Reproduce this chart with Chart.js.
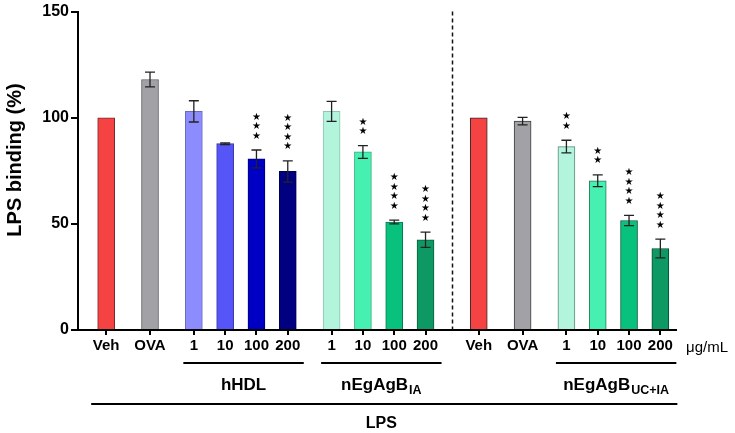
<!DOCTYPE html>
<html>
<head>
<meta charset="utf-8">
<script src="https://cdn.jsdelivr.net/npm/chart.js@4.4.1/dist/chart.umd.min.js"></script>
<style>
  html, body { margin: 0; padding: 0; background: #fff; }
  #wrap { width: 735px; height: 433px; position: relative; }
</style>
</head>
<body>
<div id="wrap"><canvas id="lpsChart"></canvas></div>
<script>
// bar labels, in drawing order
const categories = ["Veh", "OVA", "1", "10", "100", "200", "1", "10", "100", "200", "Veh", "OVA", "1", "10", "100", "200"];
// which treatment group each bar belongs to
const groupOf = [0, 1, 2, 2, 2, 2, 3, 3, 3, 3, 4, 5, 6, 6, 6, 6];
// LPS binding (%) and error (SEM)
const binding = [100, 118, 103, 87.8, 80.6, 74.7, 103, 83.9, 50.9, 42.5, 100, 98.4, 86.4, 70.3, 51.6, 38.4];
const sem = [0, 3.5, 5, 0.4, 4.2, 5, 4.7, 3, 0.9, 3.6, 0, 1.8, 3, 2.8, 2.4, 4.4];
// number of significance stars above each bar
const stars = [0, 0, 0, 0, 3, 4, 0, 2, 4, 4, 0, 0, 2, 2, 4, 4];
const yTicks = [0, 50, 100, 150];
const groupNames = [
  { group: 2, text: "hHDL", sub: "" },
  { group: 3, text: "nEgAgB", sub: "IA" },
  { group: 6, text: "nEgAgB", sub: "UC+IA" },
];
const sectionName = "LPS";
const unitName = "\u03bcg/mL";

// styles
const barColors = ["#f54242", "#a2a1a6", "#8c8cff", "#5555f8", "#0000c4", "#000080",
  "#b3f5dc", "#45f0b0", "#08c17c", "#0e9964",
  "#f54242", "#a2a1a6", "#b3f5dc", "#45f0b0", "#08c17c", "#0e9964"];
const barBorders = ["#7a2a2a", "#5c5c60", "#6a6ac0", "#3a3aa8", "#00007a", "#000050",
  "#8cc4b0", "#36b084", "#067a50", "#08603e",
  "#3a2a2a", "#3c3c40", "#5a8a78", "#2a7a5a", "#045a3a", "#064a30"];
const groupGap = 1.4;     // gap between groups, in bar steps
const sectionGap = 1.7;   // gap across the dashed divider
const sectionBreak = 4;   // first group right of the divider
const FONT = "'Liberation Sans', Arial, Helvetica, sans-serif";

// bar positions on the x scale
const xPos = [];
categories.forEach(function (c, i) {
  if (i === 0) { xPos.push(0); return; }
  let step = 1;
  if (groupOf[i] !== groupOf[i - 1]) step = groupOf[i] === sectionBreak ? sectionGap : groupGap;
  xPos.push(xPos[i - 1] + step);
});

const annotations = {
  id: "annotations",
  afterDatasetsDraw: function (chart) {
    const ctx = chart.ctx;
    const xs = chart.scales.x, ys = chart.scales.y;
    const area = chart.chartArea;
    ctx.save();

    // error bars
    ctx.strokeStyle = "#222";
    ctx.lineWidth = 1.3;
    binding.forEach(function (v, i) {
      if (!sem[i]) return;
      const px = xs.getPixelForValue(xPos[i]);
      const top = ys.getPixelForValue(v + sem[i]);
      const bot = ys.getPixelForValue(v - sem[i]);
      ctx.beginPath();
      ctx.moveTo(px, top); ctx.lineTo(px, bot);
      ctx.moveTo(px - 5, top); ctx.lineTo(px + 5, top);
      ctx.moveTo(px - 5, bot); ctx.lineTo(px + 5, bot);
      ctx.stroke();
    });

    // stars
    ctx.fillStyle = "#000";
    ctx.font = "10px 'DejaVu Sans'";
    ctx.textAlign = "center";
    ctx.textBaseline = "middle";
    stars.forEach(function (n, i) {
      const px = xs.getPixelForValue(xPos[i]);
      const top = ys.getPixelForValue(binding[i] + sem[i]);
      for (let k = 0; k < n; k++) {
        ctx.fillText("\u2605", px, top - 14 - k * 9.5);
      }
    });

    // dashed divider
    const cut = groupOf.indexOf(sectionBreak);
    const dx = Math.round(xs.getPixelForValue((xPos[cut - 1] + xPos[cut]) / 2)) + 0.5;
    ctx.strokeStyle = "#111";
    ctx.lineWidth = 1.5;
    ctx.setLineDash([4, 3]);
    ctx.beginPath();
    ctx.moveTo(dx, area.top);
    ctx.lineTo(dx, area.bottom);
    ctx.stroke();
    ctx.setLineDash([]);

    // group underlines and names
    ctx.lineWidth = 2;
    ctx.strokeStyle = "#000";
    groupNames.forEach(function (g) {
      const first = groupOf.indexOf(g.group);
      const last = groupOf.lastIndexOf(g.group);
      const x1 = xs.getPixelForValue(xPos[first]) - 10.5;
      const x2 = xs.getPixelForValue(xPos[last]) + 16;
      ctx.beginPath();
      ctx.moveTo(x1, 363); ctx.lineTo(x2, 363);
      ctx.stroke();
      ctx.font = "bold 17px " + FONT;
      const w1 = ctx.measureText(g.text).width;
      ctx.font = "bold 12.5px " + FONT;
      const w2 = g.sub ? ctx.measureText(g.sub).width + 1 : 0;
      const sx = (x1 + x2) / 2 - (w1 + w2) / 2;
      ctx.textAlign = "left";
      ctx.textBaseline = "alphabetic";
      ctx.font = "bold 17px " + FONT;
      ctx.fillText(g.text, sx, 390);
      if (g.sub) {
        ctx.font = "bold 12.5px " + FONT;
        ctx.fillText(g.sub, sx + w1 + 1, 393.5);
      }
    });

    // LPS bracket
    const lx1 = xs.getPixelForValue(xPos[0]) - 15;
    const lx2 = xs.getPixelForValue(xPos[xPos.length - 1]) + 17;
    ctx.beginPath();
    ctx.moveTo(lx1, 404); ctx.lineTo(lx2, 404);
    ctx.stroke();
    ctx.font = "bold 16px " + FONT;
    ctx.textAlign = "center";
    ctx.fillText(sectionName, (lx1 + lx2) / 2 - 3, 428);

    // unit
    ctx.font = "15px " + FONT;
    ctx.textAlign = "left";
    ctx.fillText(unitName, 686, 352);

    // y title
    ctx.translate(15, 160);
    ctx.rotate(-Math.PI / 2);
    ctx.font = "bold 20px " + FONT;
    ctx.textAlign = "center";
    ctx.textBaseline = "middle";
    ctx.fillText("LPS binding (%)", 0, 0);
    ctx.restore();
  },
};

new Chart(document.getElementById("lpsChart"), {
  type: "bar",
  data: {
    datasets: [
      {
        data: binding.map(function (v, i) { return { x: xPos[i], y: v }; }),
        backgroundColor: barColors,
        borderColor: barBorders,
        borderWidth: 1,
        barThickness: 17,
      },
    ],
  },
  options: {
    responsive: true,
    maintainAspectRatio: false,
    animation: false,
    layout: { padding: { top: 10, right: 59, left: 0, bottom: 0 } },
    plugins: { legend: { display: false }, tooltip: { enabled: false } },
    scales: {
      x: {
        type: "linear",
        offset: false,
        min: -0.9,
        max: 18.2,
        afterFit: function (scale) { scale.height = 103; },
        afterBuildTicks: function (scale) {
          scale.ticks = xPos.map(function (v) { return { value: v }; });
        },
        ticks: {
          autoSkip: false,
          maxRotation: 0,
          padding: 2,
          color: "#000",
          font: { family: FONT, size: 15, weight: "bold" },
          callback: function (v, idx) { return categories[idx]; },
        },
        grid: { offset: false, drawOnChartArea: false, drawTicks: true, tickLength: 5, color: "#000", lineWidth: 2 },
        border: { display: true, color: "#000", width: 2 },
      },
      y: {
        min: 0,
        max: 150,
        afterFit: function (scale) { scale.width = 78; },
        afterBuildTicks: function (scale) {
          scale.ticks = yTicks.map(function (v) { return { value: v }; });
        },
        ticks: {
          padding: 2,
          color: "#000",
          font: { family: FONT, size: 16, weight: "bold" },
        },
        grid: { drawOnChartArea: false, drawTicks: true, tickLength: 7, color: "#000", lineWidth: 2 },
        border: { display: true, color: "#000", width: 2 },
      },
    },
  },
  plugins: [annotations],
});
</script>
</body>
</html>
